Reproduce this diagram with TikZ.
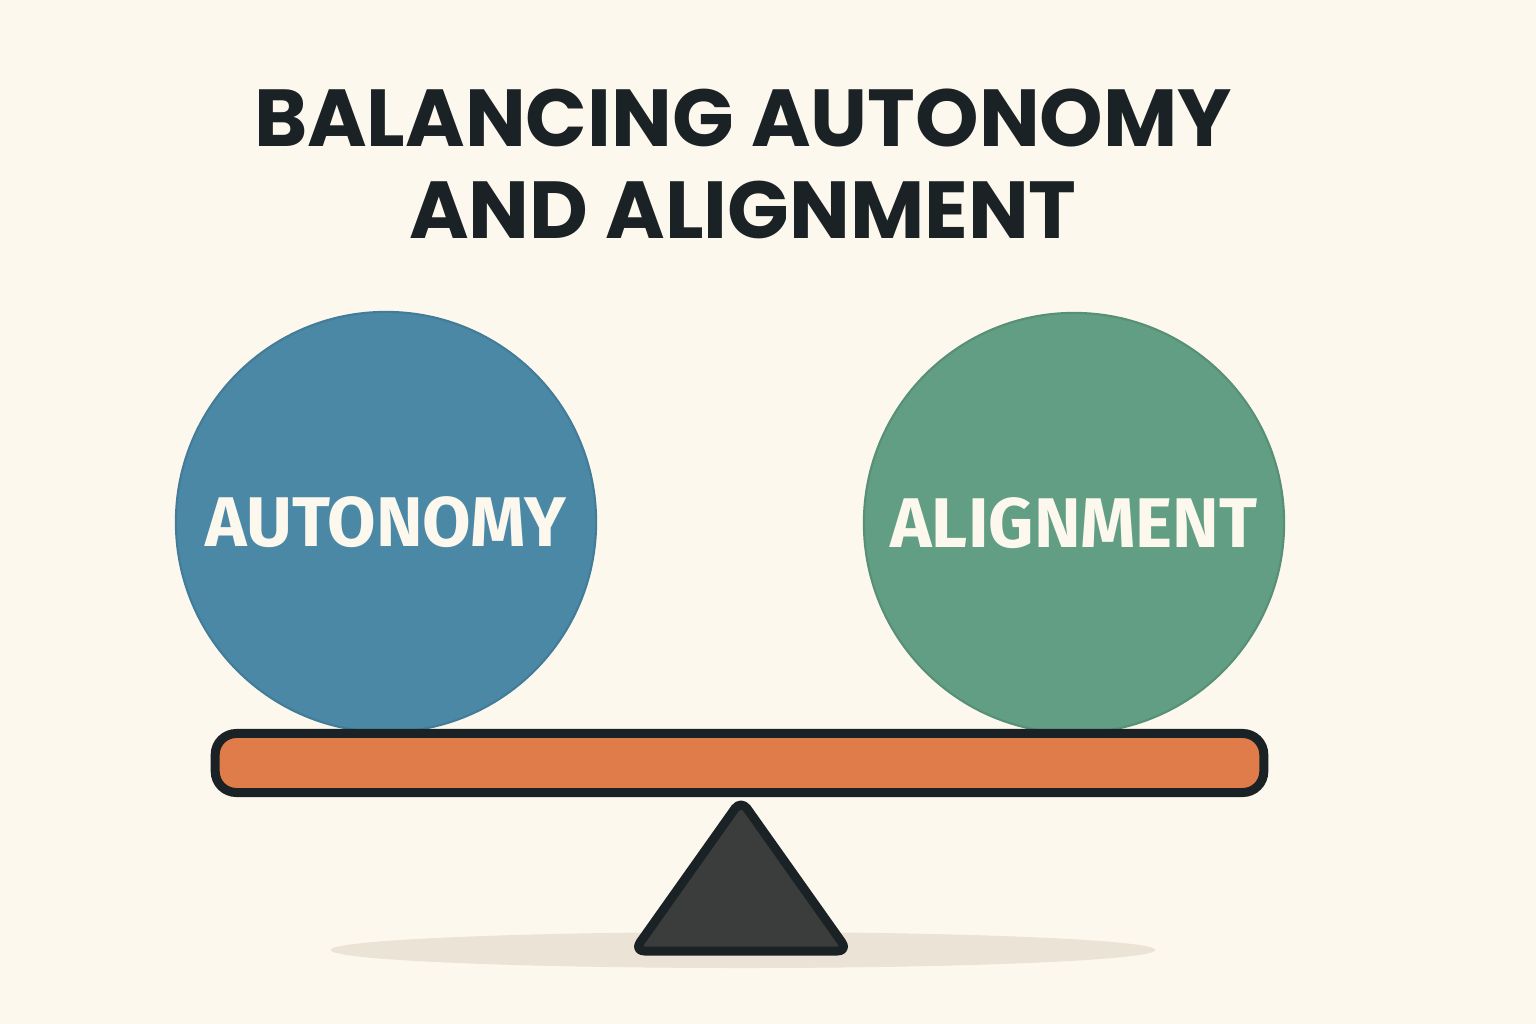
\documentclass[tikz,border=0pt]{standalone}
\usepackage{fontspec}
\usepackage{tikz}
\usetikzlibrary{positioning}
\newfontfamily\titlefont{Poppins}
\newfontfamily\ballfont{Fira Sans}
\definecolor{cBg}{HTML}{FCF8EE}
\definecolor{cInk}{HTML}{1B2225}
\definecolor{cAut}{HTML}{4B88A6}
\definecolor{cAutB}{HTML}{427C99}
\definecolor{cAli}{HTML}{629E84}
\definecolor{cAliB}{HTML}{578F77}
\definecolor{cBeam}{HTML}{E07B4A}
\definecolor{cPiv}{HTML}{3B3C3C}
\definecolor{cShd}{HTML}{EBE3D6}
\tikzset{
  ttl/.style={font=\titlefont\bfseries\fontsize{23}{28}\selectfont,text=cInk,inner sep=0pt},
  ball/.style={circle,minimum size=4.2cm,inner sep=0pt,line width=0.6pt,
               font=\ballfont\bfseries\fontsize{20}{24}\selectfont,text=cBg},
  beam/.style={draw=cInk,fill=cBeam,line width=0.09cm,rounded corners=6pt,
               minimum width=10.48cm,minimum height=0.59cm,inner sep=0pt},
}
\begin{document}
\begin{tikzpicture}[x=0.01cm,y=-0.01cm]
  % --- canvas ---
  \fill[cBg] (0,0) rectangle (1536,1024);
  \useasboundingbox (0,0) rectangle (1536,1024);
  % --- title ---
  \node[ttl] (t1) at (743,118) {BALANCING AUTONOMY};
  \node[ttl,below=0.33cm of t1] (t2) {AND ALIGNMENT};
  % --- ground shadow ---
  \fill[cShd] (743,950) ellipse [x radius=4.12cm,y radius=0.18cm];
  % --- weights ---
  \node[ball,fill=cAut,draw=cAutB] (aut) at (386,522) {AUTONOMY};
  \node[ball,fill=cAli,draw=cAliB] (ali) at (1074,523) {ALIGNMENT};
  % --- fulcrum + beam ---
  \coordinate (tip) at (741,800);
  \coordinate (bl) at (634,951);
  \coordinate (br) at (848,951);
  \draw[cInk,fill=cPiv,line width=0.09cm,line join=round,rounded corners=3pt]
    (tip) -- (br) -- (bl) -- cycle;
  \node[beam] (bar) at (739.5,763) {};
\end{tikzpicture}
\end{document}
